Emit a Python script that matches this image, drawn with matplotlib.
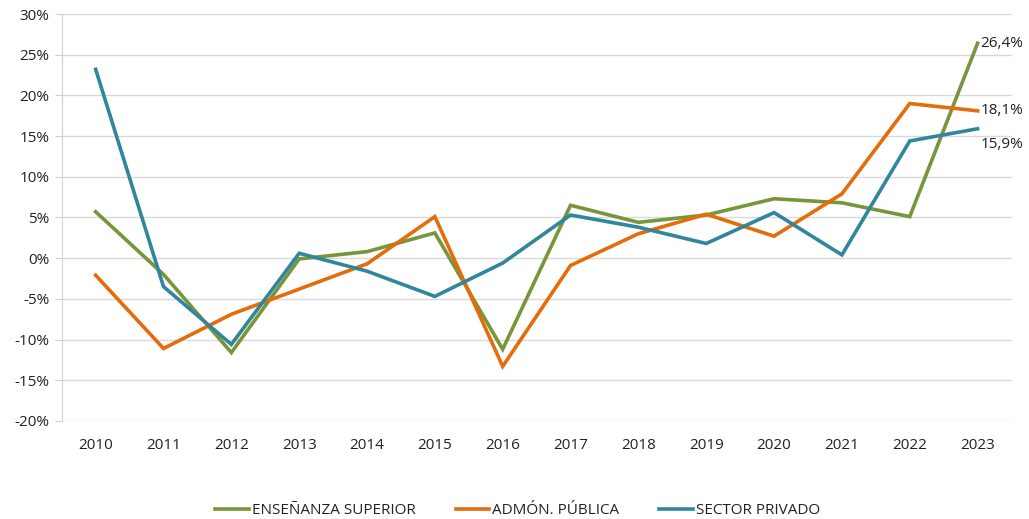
import numpy as np
import matplotlib
matplotlib.use("Agg")
import matplotlib.pyplot as plt
from matplotlib.ticker import FuncFormatter

plt.rcParams['font.family'] = ['Open Sans', 'DejaVu Sans']

# Datos (% variación interanual)
years = [2010, 2011, 2012, 2013, 2014, 2015, 2016, 2017, 2018, 2019, 2020, 2021, 2022, 2023]
ens_superior = [5.7, -2.0, -11.6, -0.1, 0.8, 3.1, -11.2, 6.5, 4.4, 5.3, 7.3, 6.8, 5.1, 26.4]
admon_publica = [-2.1, -11.1, -6.9, -3.8, -0.7, 5.1, -13.3, -0.9, 3.0, 5.4, 2.7, 7.9, 19.0, 18.1]
sector_privado = [23.2, -3.5, -10.6, 0.6, -1.6, -4.7, -0.6, 5.3, 3.8, 1.8, 5.6, 0.4, 14.4, 15.9]

series = [
    ("ENSEÑANZA SUPERIOR", ens_superior, "#77963A"),
    ("ADMÓN. PÚBLICA", admon_publica, "#E46C0A"),
    ("SECTOR PRIVADO", sector_privado, "#31869B"),
]

fig = plt.figure(figsize=(10.29, 5.19), dpi=100)
ax = fig.add_axes([0.060, 0.189, 0.923, 0.784])

x = np.arange(len(years))
for name, vals, col in series:
    ax.plot(x, vals, color=col, lw=2.6, label=name, solid_joinstyle='miter')

# Etiquetas del último valor
offsets = {"ENSEÑANZA SUPERIOR": 0, "ADMÓN. PÚBLICA": 0, "SECTOR PRIVADO": -11}
for name, vals, col in series:
    v = vals[-1]
    ax.annotate(f"{v:.1f}%".replace(".", ","), xy=(x[-1], v),
                xytext=(2, offsets[name]), textcoords="offset points",
                ha="left", va="center", fontsize=11, color="#222222")

ax.set_xlim(-0.5, len(years) - 0.5)
ax.set_ylim(-20, 30)
ax.set_yticks(np.arange(-20, 31, 5))
ax.yaxis.set_major_formatter(FuncFormatter(lambda v, p: f"{v:.0f}%"))
ax.set_xticks(x)
ax.set_xticklabels([str(y) for y in years])

ax.grid(axis='y', color='#d9d9d9', lw=1)
ax.set_axisbelow(True)
for s in ['top', 'right', 'bottom']:
    ax.spines[s].set_visible(False)
ax.spines['left'].set_color('#d0d0d0')
ax.tick_params(axis='y', length=5, color='#d0d0d0', labelsize=11, labelcolor='#222222', pad=4)
ax.tick_params(axis='x', length=0, labelsize=11, labelcolor='#222222', pad=12)

ax.legend(loc='upper center', bbox_to_anchor=(0.48, -0.168), ncol=3, frameon=False,
          fontsize=11, handlelength=2.2, handletextpad=0.2, columnspacing=2.6,
          labelcolor='#222222')

fig.savefig("out.png", dpi=100)
